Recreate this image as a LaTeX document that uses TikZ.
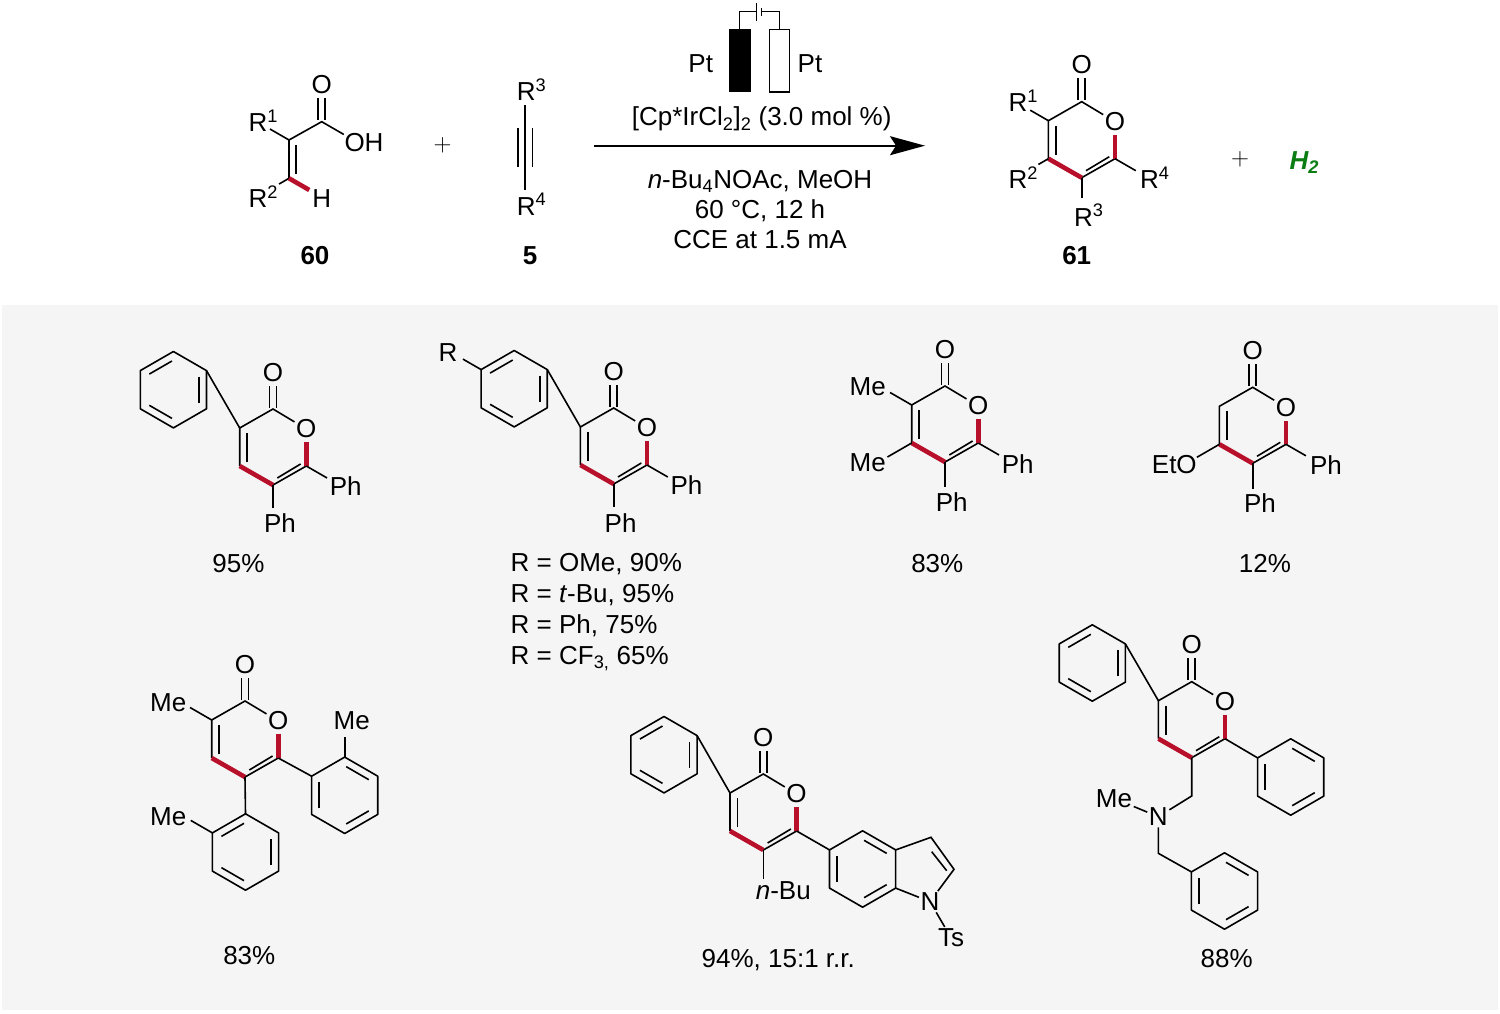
\documentclass[tikz,border=0pt]{standalone}
\usepackage{fontspec}
\setmainfont{Liberation Sans}
\usetikzlibrary{arrows.meta}

\definecolor{panelgray}{HTML}{F5F5F5}
\definecolor{bondred}{HTML}{B80F2A}
\definecolor{gasgreen}{HTML}{0B7D12}

\tikzset{
   bond/.style={line width=1.6pt},
   redbond/.style={line width=4.6pt,color=bondred},
   lab/.style={inner sep=1.5pt,font=\fontsize{26}{30}\selectfont},
   txt/.style={lab,anchor=base,inner sep=0pt},
   rlab/.style={lab,anchor=base west,inner sep=0pt},
   plus/.style={inner sep=0pt,font=\fontsize{29}{30}\selectfont}
}

\newcommand{\benzring}[3]{
   \foreach \a in {30,90,...,330} \coordinate (#1-\a) at ([shift={(\a:38.2)}]#2);
   \draw[bond,line join=round] (#1-30) -- (#1-90) -- (#1-150) -- (#1-210) -- (#1-270) -- (#1-330) -- cycle;
   \foreach \a in {#3,#3+120,#3+240}
      \draw[bond] ([shift={(\a+3:28.7)}]#2) -- ([shift={(\a+57:28.7)}]#2);
}

\newcommand{\pyrone}[2]{
   \begin{scope}[shift={(#2)}]
      \coordinate (#1-c2) at (0,0);
      \coordinate (#1-c3) at (-33.3,19);
      \coordinate (#1-c4) at (-33.3,57);
      \coordinate (#1-c5) at (0,76);
      \coordinate (#1-c6) at (33.3,57);
      \node[lab] (#1-o1) at (33.3,20) {O};
      \node[lab] (#1-o2) at (0,-36.7) {O};
      \draw[bond] (#1-o1) -- (#1-c2) -- (#1-c3) -- (#1-c4);
      \draw[bond] (#1-c5) -- (#1-c6);
      \draw[bond] (-25.8,24) -- (-25.8,53);
      \draw[bond] (4.3,69) -- (27.6,55);
      \draw[bond] (-3.5,-1.5) -- (-3.5,-23.5);
      \draw[bond] (3.5,-1.5) -- (3.5,-23.5);
      \draw[redbond] (#1-c4) -- (#1-c5);
      \draw[redbond,shorten >=2.5pt] (#1-c6) -- (#1-o1);
   \end{scope}
}

\begin{document}
\begin{tikzpicture}[x=1pt,y=-1pt]
   \useasboundingbox (0,0) rectangle (1500,1014);
   \fill[panelgray] (2,305) rectangle (1498,1010);

   % acid 60
   \coordinate (ca) at (289,140);
   \coordinate (cb) at (289,178.3);
   \coordinate (co) at (321.7,121.7);
   \node[rlab] (r1) at (248.3,131.7) {R\textsuperscript{1}};
   \node[rlab] (r2) at (248.3,207.3) {R\textsuperscript{2}};
   \node[lab] (oa) at (321.7,85) {O};
   \node[lab] (oh) at (364,142.3) {OH};
   \node[lab] (ha) at (321.7,199) {H};
   \draw[bond] (cb) -- (ca) -- (co) -- ++(30:25.5);
   \draw[bond] (296,145) -- (296,174);
   \draw[bond] (ca) -- ++(210:22);
   \draw[bond] (cb) -- ++(150:11.5);
   \draw[bond] (318.2,120) -- (318.2,98);
   \draw[bond] (325.2,120) -- (325.2,98);
   \draw[redbond] (cb) -- ++(30:23.4);
   \node[txt] (n60) at (315,264.3) {\bfseries 60};

   \node[plus] (p1) at (442.7,145.7) {$+$};

   % alkyne 5
   \node[rlab] (r3) at (516.7,101) {R\textsuperscript{3}};
   \node[rlab] (r4) at (516.7,215) {R\textsuperscript{4}};
   \coordinate (al) at (525,105);
   \coordinate (ar) at (525,190);
   \draw[bond] (al) -- (ar);
   \draw[bond] (517.7,128.3) -- (517.7,166.7);
   \draw[bond] (532.3,128.3) -- (532.3,166.7);
   \node[txt] (n5) at (530,264.3) {\bfseries 5};

   % cell and conditions
   \coordinate (as) at (594.3,145.7);
   \coordinate (ae) at (925,145.7);
   \draw[line width=1.7pt,-{Stealth[length=35pt,width=19pt,inset=6pt]}] (as) -- (ae);
   \fill (729,29.3) rectangle (750.7,92.3);
   \draw[line width=1.3pt] (769.5,29.3) rectangle (789.3,92);
   \draw[line width=1.2pt] (739.3,29.3) -- (739.3,11.7) -- (756.7,11.7);
   \draw[line width=1.2pt] (756.7,2.7) -- (756.7,20.7);
   \draw[line width=1.2pt] (761.7,8.3) -- (761.7,15.7);
   \draw[line width=1.2pt] (761.7,11.7) -- (779.3,11.7) -- (779.3,29.3);
   \node[lab] (pta) at (700.7,63.3) {Pt};
   \node[lab] (ptc) at (810,63.3) {Pt};
   \node[txt] (cat) at (761.7,126) {[Cp*IrCl\textsubscript{2}]\textsubscript{2} (3.0 mol \%)};
   \node[txt] (salt) at (760,188.3) {\textit{n}-Bu\textsubscript{4}NOAc, MeOH};
   \node[txt] (temp) at (760,218.3) {60 °C, 12 h};
   \node[txt] (cce) at (760,248.3) {CCE at 1.5 mA};

   % product 61
   \pyrone{p}{1081.7,101.7}
   \node[rlab] (pr1) at (1008.3,111.7) {R\textsuperscript{1}};
   \node[rlab] (pr2) at (1008.3,188.3) {R\textsuperscript{2}};
   \node[rlab] (pr3) at (1074,226) {R\textsuperscript{3}};
   \node[rlab] (pr4) at (1140,188.3) {R\textsuperscript{4}};
   \draw[bond] (p-c3) -- ++(210:21);
   \draw[bond] (p-c4) -- ++(150:11.5);
   \draw[bond] (p-c5) -- ++(90:20);
   \draw[bond] (p-c6) -- ++(30:24);
   \node[txt] (n61) at (1076.7,264) {\bfseries 61};
   \node[plus] (p2) at (1240,159.3) {$+$};
   \node[lab,text=gasgreen] (h2) at (1304.3,162.7) {\textbf{\textit{H\textsubscript{2}}}};

   % first row
   \pyrone{a}{273,409}
   \benzring{ap}{173.4,389.7}{-30}
   \draw[bond] (a-c3) -- (ap-330);
   \draw[bond] (a-c5) -- ++(90:23);
   \draw[bond] (a-c6) -- ++(30:24);
   \node[lab] (aph) at (345.8,486) {Ph};
   \node[lab] (aph2) at (280,523.3) {Ph};
   \node[txt] (ay) at (238.5,572) {95\%};

   \pyrone{b}{613.7,408}
   \benzring{bp}{514.2,388.7}{-30}
   \draw[bond] (b-c3) -- (bp-330);
   \draw[bond] (bp-210) -- ++(210:21);
   \draw[bond] (b-c5) -- ++(90:23);
   \draw[bond] (b-c6) -- ++(30:24);
   \node[lab] (br) at (448,352.7) {R};
   \node[lab] (bph) at (686.4,485) {Ph};
   \node[lab] (bph2) at (620.6,523.3) {Ph};
   \node[rlab] (by1) at (510.5,571.7) {R = OMe, 90\%};
   \node[rlab] (by2) at (510.5,602.7) {R = \textit{t}-Bu, 95\%};
   \node[rlab] (by3) at (510.5,633.7) {R = Ph, 75\%};
   \node[rlab] (by4) at (510.5,664.7) {R = CF\textsubscript{3,} 65\%};

   \pyrone{c}{945,386}
   \draw[bond] (c-c3) -- ++(210:25);
   \draw[bond] (c-c4) -- ++(150:28);
   \draw[bond] (c-c5) -- ++(90:25);
   \draw[bond] (c-c6) -- ++(30:24);
   \node[lab] (cme) at (867.7,386.7) {Me};
   \node[lab] (cme2) at (867.7,462.7) {Me};
   \node[lab] (cph) at (1017.7,464) {Ph};
   \node[lab] (cph2) at (951.7,501.7) {Ph};
   \node[txt] (cy) at (937.3,572.5) {83\%};

   \pyrone{d}{1252.7,387.3}
   \draw[bond] (d-c3) -- (d-c4);
   \draw[bond] (d-c4) -- ++(150:26);
   \draw[bond] (d-c5) -- ++(90:25.6);
   \draw[bond] (d-c6) -- ++(30:23);
   \node[lab] (deto) at (1174.3,465) {EtO};
   \node[lab] (dph) at (1326,465) {Ph};
   \node[lab] (dph2) at (1260,502.7) {Ph};
   \node[txt] (dy) at (1265,572.5) {12\%};

   % second row
   \pyrone{e}{245,701}
   \benzring{el}{245.5,852}{-30}
   \benzring{er}{344.7,795.3}{30}
   \draw[bond] (e-c5) -- (el-270);
   \draw[bond] (e-c6) -- (er-210);
   \draw[bond] (e-c3) -- ++(210:25);
   \draw[bond] (el-210) -- ++(210:25);
   \draw[bond] (er-270) -- ++(270:20.6);
   \node[lab] (eme) at (168.3,702.3) {Me};
   \node[lab] (eme2) at (168.3,816.7) {Me};
   \node[lab] (eme3) at (351.7,721) {Me};
   \node[txt] (ey) at (249.3,964) {83\%};

   \pyrone{f}{763.3,774}
   \benzring{fp}{664,754.7}{-30}
   \benzring{fi}{862.6,869}{30}
   \coordinate (f-c7) at (931,837.3);
   \coordinate (f-c8) at (954,869.3);
   \node[lab] (f-n) at (930,901.7) {N};
   \node[lab] (f-ts) at (951,937.7) {Ts};
   \draw[bond] (f-c3) -- (fp-330);
   \draw[bond] (f-c6) -- (fi-210);
   \draw[bond] (f-c5) -- ++(90:29);
   \draw[bond] (fi-330) -- (f-c7) -- (f-c8) -- (f-n);
   \draw[bond] (fi-30) -- (f-n);
   \draw[bond] (931.7,851.7) -- (946.7,870.7);
   \draw[bond] (f-n) -- (f-ts);
   \node[lab] (f-bu) at (783.3,891) {\textit{n}-Bu};
   \node[txt] (fy) at (778.3,967) {94\%, 15:1 r.r.};

   \pyrone{g}{1191.7,681.7}
   \benzring{gp}{1092.3,663}{-30}
   \benzring{gr}{1290.7,777}{30}
   \benzring{gb}{1224.5,891}{30}
   \node[lab] (g-n) at (1158.3,816.7) {N};
   \node[lab] (g-me) at (1114,798.3) {Me};
   \coordinate (g-ch) at (1191.7,796);
   \coordinate (g-cb) at (1158.3,853.3);
   \draw[bond] (g-c3) -- (gp-330);
   \draw[bond] (g-c6) -- (gr-210);
   \draw[bond] (g-c5) -- (g-ch) -- (g-n);
   \draw[bond] (g-n) -- (g-me);
   \draw[bond] (g-n) -- (g-cb) -- (gb-210);
   \node[txt] (gy) at (1226.7,967) {88\%};
\end{tikzpicture}
\end{document}
